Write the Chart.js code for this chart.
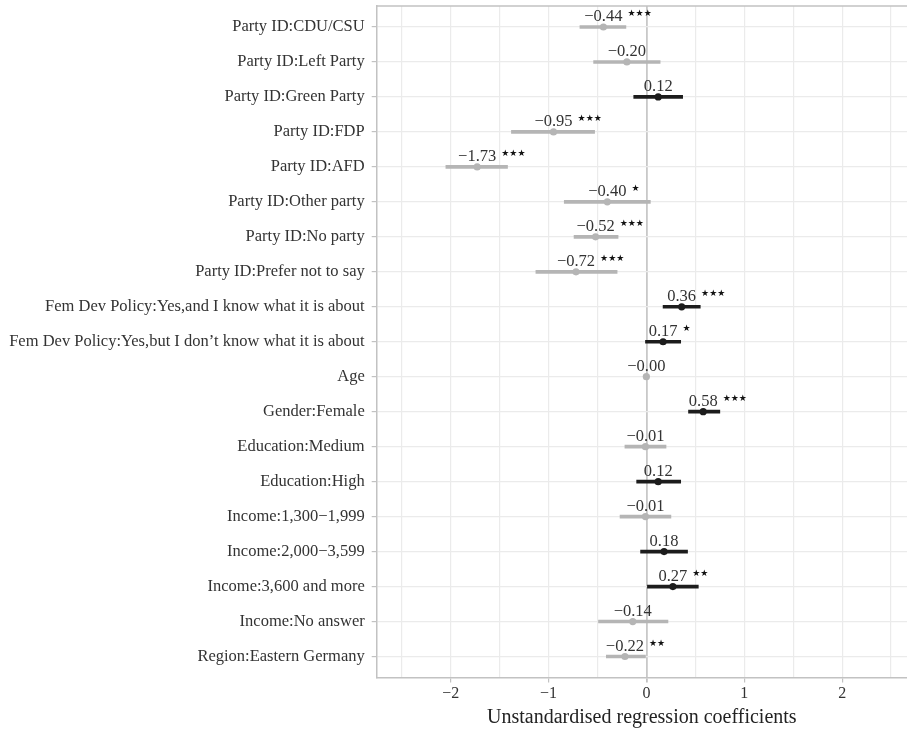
<!DOCTYPE html>
<html>
    <head>
        <style>
            body { margin: 0; background: #fff; overflow: hidden; }
            #wrap { width: 907px; height: 730px; }
        </style>
    </head>
    <body>
        <div id="wrap"><canvas id="chart"></canvas></div>
    </body>
    <script src="https://cdn.jsdelivr.net/npm/chart.js"></script>
    <script>
        const terms = [
            "Party ID:CDU/CSU", "Party ID:Left Party", "Party ID:Green Party", "Party ID:FDP",
            "Party ID:AFD", "Party ID:Other party", "Party ID:No party", "Party ID:Prefer not to say",
            "Fem Dev Policy:Yes,and I know what it is about",
            "Fem Dev Policy:Yes,but I don\u2019t know what it is about",
            "Age", "Gender:Female", "Education:Medium", "Education:High",
            "Income:1,300\u22121,999", "Income:2,000\u22123,599", "Income:3,600 and more",
            "Income:No answer", "Region:Eastern Germany"
        ];
        const estimates = [-0.44, -0.20, 0.12, -0.95, -1.73, -0.40, -0.52, -0.72, 0.36, 0.17,
                           -0.001, 0.58, -0.01, 0.12, -0.01, 0.18, 0.27, -0.14, -0.22];
        const lower = [-0.68, -0.54, -0.13, -1.38, -2.05, -0.84, -0.74, -1.13, 0.17, -0.01,
                       -0.02, 0.43, -0.22, -0.10, -0.27, -0.06, 0.01, -0.49, -0.41];
        const upper = [-0.21, 0.14, 0.37, -0.53, -1.42, 0.04, -0.29, -0.30, 0.55, 0.35,
                       0.02, 0.75, 0.20, 0.35, 0.25, 0.42, 0.53, 0.22, -0.01];
        const stars = ["***", "", "", "***", "***", "*", "***", "***", "***", "*",
                       "", "***", "", "", "", "", "**", "", "**"];
        const xTicks = [-2.5, -2, -1.5, -1, -0.5, 0, 0.5, 1, 1.5, 2, 2.5];

        const GREY = "#b5b5b5";
        const DARK = "#1c1c1c";
        const SERIF = "'Liberation Serif', serif";

        function fmt(v) {
            return v.toFixed(2).replace("-", "\u2212");
        }
        const colours = estimates.map(v => v < 0 ? GREY : DARK);

        // number above each point, significance stars after it
        const labelPlugin = {
            id: "coefLabels",
            afterDatasetsDraw(chart) {
                const ctx = chart.ctx;
                const xs = chart.scales.x, ys = chart.scales.y;
                ctx.save();
                for (let i = 0; i < estimates.length; i++) {
                    const px = xs.getPixelForValue(estimates[i]);
                    const py = ys.getPixelForValue(i);
                    const txt = fmt(estimates[i]);
                    ctx.font = "16.5px " + SERIF;
                    ctx.fillStyle = "#333";
                    ctx.textAlign = "center";
                    ctx.textBaseline = "alphabetic";
                    ctx.fillText(txt, px, py - 5.5);
                    if (stars[i]) {
                        const w = ctx.measureText(txt).width;
                        ctx.font = "9px 'DejaVu Sans'";
                        ctx.fillStyle = "#111";
                        ctx.textAlign = "left";
                        ctx.fillText(stars[i].replace(/\*/g, "\u2605"), px + w / 2 + 5, py - 10.5);
                    }
                }
                ctx.restore();
            }
        };

        // top edge of the panel (the other edges are axis borders)
        const frameTop = {
            id: "frameTop",
            afterDraw(chart) {
                const a = chart.chartArea, ctx = chart.ctx;
                ctx.save();
                ctx.strokeStyle = "#c2c2c2";
                ctx.lineWidth = 1.5;
                ctx.beginPath();
                ctx.moveTo(a.left, a.top);
                ctx.lineTo(a.right, a.top);
                ctx.stroke();
                ctx.restore();
            }
        };

        const chart = new Chart(document.getElementById("chart"), {
            type: "scatter",
            data: {
                datasets: [
                    {
                        type: "scatter",
                        order: 0,
                        data: estimates.map((v, i) => ({ x: v, y: i })),
                        backgroundColor: colours,
                        borderWidth: 0,
                        pointRadius: 3.6
                    },
                    {
                        type: "bar",
                        order: 1,
                        indexAxis: "y",
                        data: estimates.map((v, i) => ({ x: [lower[i], upper[i]], y: i })),
                        backgroundColor: colours,
                        barThickness: 3,
                        grouped: false
                    }
                ]
            },
            options: {
                responsive: true,
                maintainAspectRatio: false,
                animation: false,
                layout: { autoPadding: false, padding: { top: 6, right: 0, bottom: 0, left: 0 } },
                plugins: { legend: { display: false }, tooltip: { enabled: false } },
                scales: {
                    x: {
                        type: "linear",
                        min: -2.757,
                        max: 2.663,
                        offset: false,
                        afterBuildTicks: axis => { axis.ticks = xTicks.map(v => ({ value: v })); },
                        afterFit: axis => { axis.height = 52.5; axis.paddingLeft = 0; axis.paddingRight = 0; },
                        border: { color: "#c2c2c2", width: 1.5 },
                        grid: {
                            offset: false,
                            color: c => c.tick && c.tick.value === 0 ? "#c8c8c8" : "#ebebeb",
                            lineWidth: c => c.tick && c.tick.value === 0 ? 1.8 : 1.2,
                            tickColor: c => c.tick && Number.isInteger(c.tick.value) ? "#c2c2c2" : "rgba(0,0,0,0)",
                            tickLength: 5
                        },
                        ticks: {
                            padding: 2,
                            color: "#333",
                            font: { family: SERIF, size: 16 },
                            callback: v => Number.isInteger(v) ? String(v).replace("-", "\u2212") : ""
                        },
                        title: {
                            display: true,
                            text: "Unstandardised regression coefficients",
                            color: "#222",
                            font: { family: SERIF, size: 20 },
                            padding: { top: 0, bottom: 0 }
                        }
                    },
                    y: {
                        type: "linear",
                        reverse: true,
                        min: -0.6,
                        max: terms.length - 0.4,
                        offset: false,
                        afterBuildTicks: axis => { axis.ticks = terms.map((t, i) => ({ value: i })); },
                        afterFit: axis => { axis.width = 376.7; axis.paddingTop = 0; axis.paddingBottom = 0; },
                        border: { color: "#c2c2c2", width: 1.5 },
                        grid: { offset: false, color: "#ebebeb", lineWidth: 1.2, tickColor: "#c2c2c2", tickLength: 5 },
                        ticks: {
                            padding: 7,
                            color: "#333",
                            font: { family: SERIF, size: 16.5 },
                            callback: v => terms[v] !== undefined ? terms[v] : ""
                        }
                    }
                }
            },
            plugins: [labelPlugin, frameTop]
        });
    </script>
</html>
